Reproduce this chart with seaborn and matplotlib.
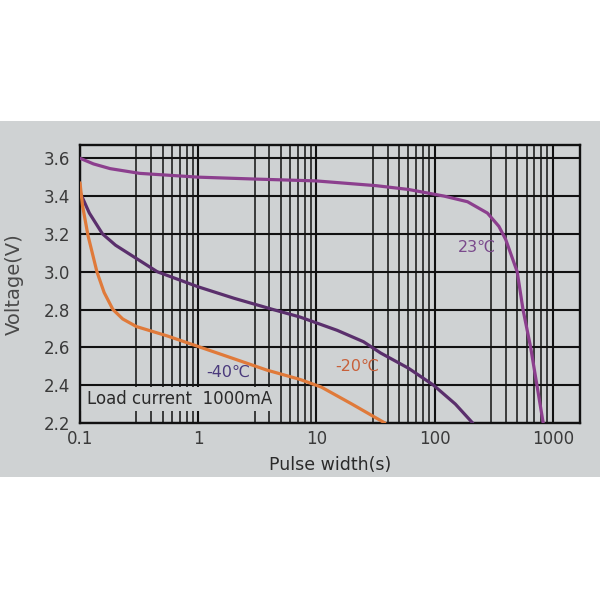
import matplotlib.pyplot as plt
import matplotlib.ticker as mticker
from matplotlib.patches import Rectangle
import pandas as pd
import seaborn as sns

# curves (pulse width in s, voltage in V)
x_23 = [0.1, 0.13, 0.18, 0.32, 1.0, 3.0, 10, 32, 60, 120, 190, 280, 350, 400, 450, 500, 560, 650, 830]
v_23 = [3.60, 3.57, 3.545, 3.52, 3.50, 3.49, 3.48, 3.455, 3.435, 3.40, 3.37, 3.31, 3.24, 3.17, 3.08, 3.00, 2.80, 2.60, 2.20]
x_m20 = [0.1, 0.12, 0.155, 0.2, 0.3, 0.45, 1.0, 2.0, 4.3, 7.3, 15, 25, 35, 60, 98, 150, 210]
v_m20 = [3.42, 3.31, 3.20, 3.14, 3.07, 3.00, 2.92, 2.86, 2.80, 2.76, 2.69, 2.63, 2.57, 2.49, 2.40, 2.30, 2.20]
x_m40 = [0.1, 0.105, 0.117, 0.139, 0.16, 0.19, 0.23, 0.30, 0.55, 1.05, 2.0, 3.8, 7.3, 11, 20, 38]
v_m40 = [3.47, 3.35, 3.19, 3.00, 2.89, 2.80, 2.75, 2.71, 2.66, 2.60, 2.54, 2.48, 2.43, 2.39, 2.30, 2.20]

y_ticks = [2.2, 2.4, 2.6, 2.8, 3.0, 3.2, 3.4, 3.6]
x_ticks = [0.1, 1, 10, 100, 1000]
x_labels = ['0.1', '1', '10', '100', '1000']

df = pd.concat([
    pd.DataFrame({'t': x_23, 'v': v_23, 'curve': '23'}),
    pd.DataFrame({'t': x_m20, 'v': v_m20, 'curve': '-20'}),
    pd.DataFrame({'t': x_m40, 'v': v_m40, 'curve': '-40'}),
])
colors = {'23': '#8c3f8e', '-20': '#5a2f6c', '-40': '#e07a3a'}

bg = '#cfd2d3'
sns.set_style('white')
plt.rcParams['font.family'] = ['DejaVu Sans']

fig = plt.figure(figsize=(6, 6), dpi=100, facecolor='white')
# grey photo area
fig.patches.append(Rectangle((0, 1 - 477 / 600), 1, 356 / 600, transform=fig.transFigure,
                             facecolor=bg, edgecolor='none', zorder=-10))
ax = fig.add_axes([80 / 600, 1 - 423 / 600, 500 / 600, 278 / 600])
ax.set_facecolor(bg)

sns.lineplot(data=df, x='t', y='v', hue='curve', palette=colors, sort=False,
             estimator=None, linewidth=2.3, legend=False, ax=ax, zorder=5)

ax.set_xscale('log')
ax.set_xlim(0.1, 1700)
ax.set_ylim(2.2, 3.67)
ax.set_xticks(x_ticks)
ax.set_xticklabels(x_labels)
ax.xaxis.set_minor_locator(mticker.LogLocator(base=10, subs=[3, 4, 5, 6, 7, 8, 9]))
ax.xaxis.set_minor_formatter(mticker.NullFormatter())
ax.set_yticks(y_ticks)
ax.set_yticklabels([f'{y:.1f}' for y in y_ticks])
ax.tick_params(axis='both', which='both', length=0, labelsize=12, colors='#3a3a3a')
ax.tick_params(axis='x', pad=5)
ax.tick_params(axis='y', pad=7)

ax.grid(True, which='major', axis='both', color='#111111', linewidth=1.5)
ax.grid(True, which='minor', axis='x', color='#111111', linewidth=1.1)
ax.set_axisbelow(True)
for s in ax.spines.values():
    s.set_color('#111111')
    s.set_linewidth(1.7)

# blank band behind the load current note
ax.add_patch(Rectangle((0.1, 2.265), 4.1, 0.128, facecolor=bg, edgecolor='none', zorder=2))
ax.text(0.115, 2.325, 'Load current  1000mA', fontsize=12, color='#2a2a2a', va='center', zorder=6)

ax.text(330, 3.13, '23\u2103', fontsize=11.5, color='#7a4a8c', ha='right', va='center', zorder=6)
ax.text(22, 2.50, '-20\u2103', fontsize=11.5, color='#c8603a', ha='center', va='center', zorder=6)
ax.text(1.8, 2.47, '-40\u2103', fontsize=11.5, color='#4a3a7c', ha='center', va='center', zorder=6)

ax.set_xlabel('Pulse width(s)', fontsize=12.5, color='#2a2a2a', labelpad=6)
ax.set_ylabel('Voltage(V)', fontsize=14, color='#4a4a4a', labelpad=14)

fig.savefig('out.png', dpi=100, facecolor='white')
